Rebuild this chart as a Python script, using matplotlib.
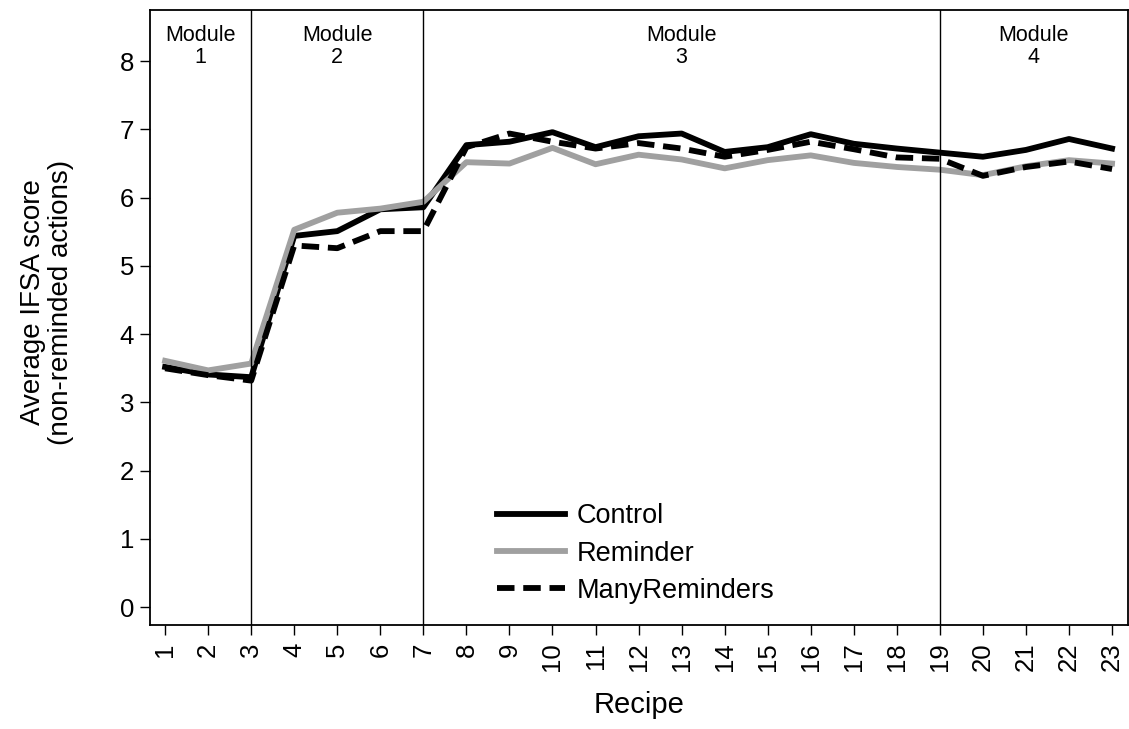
import matplotlib
matplotlib.use('Agg')
import matplotlib.pyplot as plt

plt.rcParams['font.family'] = ['Liberation Sans', 'DejaVu Sans']

recipes = list(range(1, 24))
control = [3.52, 3.41, 3.37, 5.44, 5.51, 5.83, 5.86, 6.77, 6.82, 6.96, 6.74, 6.90,
           6.94, 6.67, 6.74, 6.93, 6.79, 6.72, 6.66, 6.60, 6.70, 6.86, 6.72]
reminder = [3.61, 3.47, 3.57, 5.53, 5.78, 5.84, 5.94, 6.52, 6.50, 6.73, 6.49, 6.63,
            6.56, 6.43, 6.55, 6.62, 6.51, 6.45, 6.41, 6.33, 6.46, 6.55, 6.50]
many = [3.50, 3.40, 3.32, 5.30, 5.26, 5.51, 5.51, 6.74, 6.94, 6.82, 6.72, 6.80,
        6.72, 6.60, 6.70, 6.82, 6.71, 6.59, 6.57, 6.32, 6.45, 6.53, 6.42]

module_breaks = [3, 7, 19]
module_names = ['Module\n1', 'Module\n2', 'Module\n3', 'Module\n4']

fig = plt.figure(figsize=(11.29, 7.29), dpi=100)
ax = fig.add_axes([0.1329, 0.1427, 0.8662, 0.8436])

ax.plot(recipes, control, color='black', linewidth=4.2, label='Control')
ax.plot(recipes, reminder, color='#a0a0a0', linewidth=4.2, label='Reminder')
ax.plot(recipes, many, color='black', linewidth=4.2, linestyle=(0, (3, 1.5)),
        label='ManyReminders')

for b in module_breaks:
    ax.axvline(b, color='black', linewidth=1)

xmin, xmax = 0.65, 23.37
ax.set_xlim(xmin, xmax)
ax.set_ylim(-0.26, 8.75)

edges = [xmin] + module_breaks + [xmax]
for i, name in enumerate(module_names):
    ax.text((edges[i] + edges[i + 1]) / 2, 8.53, name, ha='center', va='top',
            fontsize=15.5, linespacing=1.05)

ax.set_xticks(recipes)
ax.set_xticklabels([str(r) for r in recipes], rotation=90, fontsize=18.5)
ax.set_yticks(range(0, 9))
ax.tick_params(axis='y', labelsize=18.5, length=7.5, width=1, pad=4)
ax.tick_params(axis='x', length=7.5, width=1, pad=5)
for s in ax.spines.values():
    s.set_linewidth(1.3)

ax.set_xlabel('Recipe', fontsize=21)
ax.xaxis.set_label_coords(0.5, -0.108)
ax.set_ylabel('Average IFSA score\n(non-reminded actions)', fontsize=20,
              linespacing=1.1)
ax.yaxis.set_label_coords(-0.078, 0.525)

ax.legend(loc='upper left', bbox_to_anchor=(0.3548, 0.198), frameon=False,
          fontsize=19.5, handlelength=2.5, labelspacing=0.42, handletextpad=0.45,
          borderpad=0, borderaxespad=0)

fig.savefig('out.png', dpi=100)
